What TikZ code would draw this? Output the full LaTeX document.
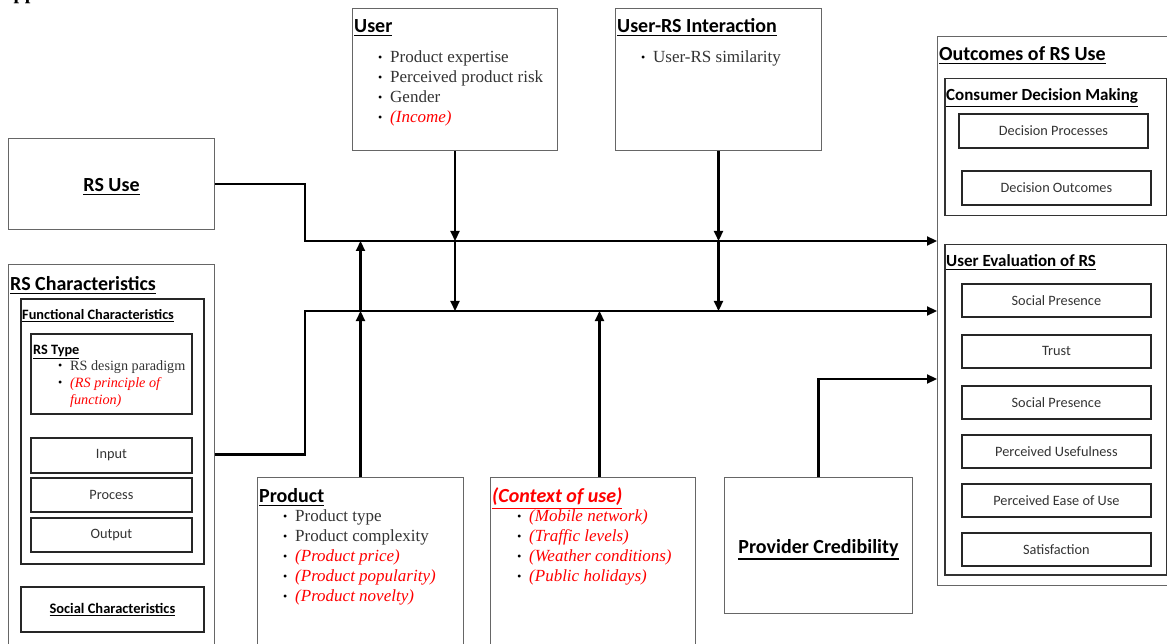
\documentclass[tikz,border=0pt]{standalone}
\usepackage{fontspec}
\setmainfont{Liberation Serif}
\newfontfamily\calfont{Carlito}
\usetikzlibrary{arrows.meta}

\newcommand{\ulin}[1]{\leavevmode\vtop{\hbox{#1}\kern0.1em\hrule height 0.085em}}
\newcommand{\bul}{\makebox[12pt][l]{\raisebox{1pt}{\color{black}\fontsize{12}{12}\selectfont\textbullet}}}

\begin{document}
\begin{tikzpicture}[x = 1pt, y = -1pt,
  outer/.style = {draw = black!60, line width = 1pt, inner sep = 0pt, anchor = north west},
  inner/.style = {draw = black!85, line width = 1.8pt, inner sep = 0pt, anchor = north west},
  head/.style = {font = \calfont\bfseries\fontsize{20}{24}\selectfont, anchor = base west, inner sep = 0pt},
  subhead/.style = {font = \calfont\bfseries\fontsize{17}{20}\selectfont, anchor = base west, inner sep = 0pt},
  smallhead/.style = {font = \calfont\bfseries\fontsize{14.3}{17}\selectfont, anchor = base west, inner sep = 0pt},
  lab/.style = {font = \calfont\fontsize{14.3}{17}\selectfont, text = black!80},
  list/.style = {align = left, anchor = base west, inner sep = 0pt, text = black!80, font = \fontsize{17}{20}\selectfont},
  conn/.style = {line width = 2.2pt},
  arr/.style = {conn, -{Triangle[length = 10pt, width = 9pt]}}]
\clip (0, 0) rectangle (1167, 644);
\useasboundingbox (0, 0) rectangle (1167, 644);

\node[anchor = base west, inner sep = 0pt, font = \bfseries\fontsize{20}{24}\selectfont] at (-1, 0) (app) {Appendix};

% left side
\node[outer, minimum width = 206pt, minimum height = 91pt] at (8, 138) (rsuse) {};
\node[head] at (rsuse.center) [anchor = center, yshift = -3pt] (rsuset) {\ulin{RS Use}};

\node[outer, minimum width = 206pt, minimum height = 380pt] at (8, 264) (rschar) {};
\node[head] at (10, 290.5) (rschart) {\ulin{RS Characteristics}};
\node[inner, minimum width = 183pt, minimum height = 265pt] at (20, 298) (func) {};
\node[smallhead] at (22, 319.5) (funct) {\ulin{Functional Characteristics}};
\node[inner, minimum width = 161pt, minimum height = 80pt] at (30, 333) (rstype) {};
\node[smallhead] at (33, 354) (rstypet) {\ulin{RS Type}};
% base of last line
\node[list, font = \fontsize{14.2}{17}\selectfont] at (58, 404) (rstypel)
  {\bul RS design paradigm\\ \bul\textcolor{red}{\itshape (RS principle of}\\ \hspace*{12pt}\textcolor{red}{\itshape function)}};
\node[inner, minimum width = 161pt, minimum height = 35pt, lab] at (30, 437) (input) {Input};
\node[inner, minimum width = 161pt, minimum height = 34pt, lab] at (30, 477) (process) {Process};
\node[inner, minimum width = 161pt, minimum height = 34pt, lab] at (30, 517) (output) {Output};
\node[inner, minimum width = 183pt, minimum height = 45pt, font = \calfont\bfseries\fontsize{14.5}{17}\selectfont] at (20, 586) (social) {\ulin{Social Characteristics}};

% top
\node[outer, minimum width = 205pt, minimum height = 142pt] at (352, 8) (user) {};
\node[head] at (354, 32.5) (usert) {\ulin{User}};
\node[list] at (378, 123) (userl)
  {\bul Product expertise\\ \bul Perceived product risk\\ \bul Gender\\ \bul\textcolor{red}{\itshape (Income)}};

\node[outer, minimum width = 206pt, minimum height = 142pt] at (615, 8) (inter) {};
\node[head] at (617, 32.5) (intert) {\ulin{User-RS Interaction}};
\node[list] at (641, 63) (interl) {\bul User-RS similarity};

% bottom
\node[outer, minimum width = 206pt, minimum height = 180pt] at (257, 477) (product) {};
\node[head] at (259, 502.5) (productt) {\ulin{Product}};
\node[list] at (283, 601) (productl)
  {\bul Product type\\ \bul Product complexity\\ \bul\textcolor{red}{\itshape (Product price)}\\
   \bul\textcolor{red}{\itshape (Product popularity)}\\ \bul\textcolor{red}{\itshape (Product novelty)}};

\node[outer, minimum width = 205pt, minimum height = 180pt] at (490, 477) (context) {};
\node[head, text = red] at (492, 502.5) (contextt) {\itshape\ulin{(Context of use)}};
\node[list, text = red, font = \itshape\fontsize{17}{20}\selectfont] at (517, 581) (contextl)
  {\bul(Mobile network)\\ \bul(Traffic levels)\\ \bul(Weather conditions)\\ \bul(Public holidays)};

\node[outer, minimum width = 188pt, minimum height = 136pt] at (724, 477) (provider) {};
\node[head] at (provider.center) [anchor = center, yshift = -4pt] (providert) {\ulin{Provider Credibility}};

% outcomes
\node[outer, minimum width = 240pt, minimum height = 549pt] at (937, 36) (outcomes) {};
\node[head] at (939, 60.5) (outcomest) {\ulin{Outcomes of RS Use}};
\node[outer, line width = 1.5pt, draw = black!80, minimum width = 222pt, minimum height = 137pt] at (944, 78) (cdm) {};
\node[subhead] at (946, 101) (cdmt) {\ulin{Consumer Decision Making}};
\node[inner, minimum width = 189pt, minimum height = 34pt, lab] at (958, 113) (dproc) {Decision Processes};
\node[inner, minimum width = 189pt, minimum height = 34pt, lab] at (961, 170) (dout) {Decision Outcomes};

\node[outer, line width = 1.5pt, draw = black!80, minimum width = 222pt, minimum height = 330pt] at (944, 244) (ueval) {};
\node[subhead] at (946, 267) (uevalt) {\ulin{User Evaluation of RS}};
\node[inner, minimum width = 189pt, minimum height = 33pt, lab] at (961, 283) (sp1) {Social Presence};
\node[inner, minimum width = 189pt, minimum height = 33pt, lab] at (961, 334) (trust) {Trust};
\node[inner, minimum width = 189pt, minimum height = 33pt, lab] at (961, 385) (sp2) {Social Presence};
\node[inner, minimum width = 189pt, minimum height = 33pt, lab] at (961, 434) (pu) {Perceived Usefulness};
\node[inner, minimum width = 189pt, minimum height = 33pt, lab] at (961, 483) (peou) {Perceived Ease of Use};
\node[inner, minimum width = 189pt, minimum height = 33pt, lab] at (961, 532) (sat) {Satisfaction};

% connectors
\coordinate (b1) at (305, 241);
\coordinate (b2) at (305, 311);
\coordinate (u1) at (user.south |- b1);
\coordinate (u2) at (user.south |- b2);
\coordinate (i1) at (inter.south |- b1);
\coordinate (i2) at (inter.south |- b2);
\coordinate (p1) at (product.north |- b1);
\coordinate (p2) at (product.north |- b2);
\coordinate (c0) at ([xshift = 6.5pt]context.north);
\coordinate (c2) at (c0 |- b2);
\coordinate (e3) at (outcomes.west |- 0, 379);

\draw[arr] (rsuse.east) -| (b1) -- (b1 -| outcomes.west);
\draw[arr] (rschar.east) -| (b2) -- (b2 -| outcomes.west);
\draw[arr] (user.south) -- (u1);
\draw[arr] (u1) -- (u2);
\draw[arr] (inter.south) -- (i1);
\draw[arr] (i1) -- (i2);
\draw[arr] (product.north) -- (p2);
\draw[arr] (p2) -- (p1);
\draw[arr] (c0) -- (c2);
\draw[arr] (provider.north) |- (e3);

\end{tikzpicture}
\end{document}
